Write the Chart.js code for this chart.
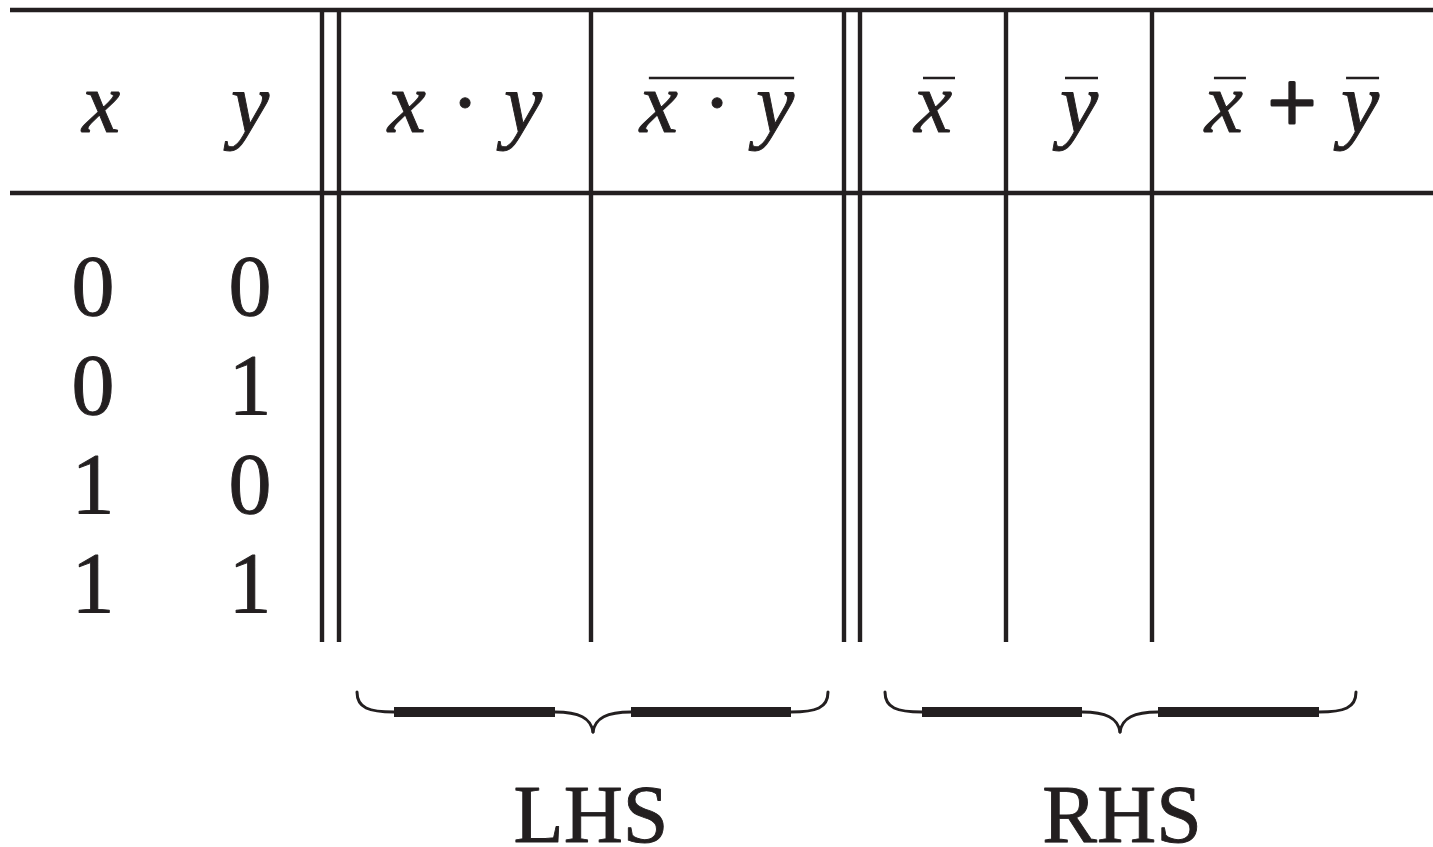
<!DOCTYPE html>
<html>
<head>
<meta charset="utf-8">
<script src="https://cdn.jsdelivr.net/npm/chart.js@4/dist/chart.umd.min.js"></script>
<style>
  html, body { margin: 0; padding: 0; background: #ffffff; }
  #wrap { width: 1433px; height: 847px; position: relative; }
</style>
</head>
<body>
<div id="wrap"><canvas id="c" width="1433" height="847"></canvas></div>
<script>
// ---- Data (truth table content) ----
const headerLabels = ['x', 'y', 'x · y', 'x · y', 'x', 'y', 'x + y'];
// overline spans as [firstToken, lastToken] per header (tokens split on spaces)
const headerBars = [[], [], [], [[0, 2]], [[0, 0]], [[0, 0]], [[0, 0], [2, 2]]];
const xBits = [0, 0, 1, 1];
const yBits = [0, 1, 0, 1];
const groupLabels = ['LHS', 'RHS'];

// ---- Layout (in scale units = pixels of the 1433x847 picture) ----
const INK = '#231f20';
const FAMILY = '"Liberation Serif", "Times New Roman", Times, serif';
const colCenters = [101, 250, 465, 717, 933, 1079, 1292];
const dataCenters = [93, 250];
const headerBaseline = 132;
const rowBaseline0 = 315, rowStep = 99;
const hRules = [10, 193];
const vRules = [322, 339, 591, 844, 860, 1006, 1152];
const ruleTop = 8, ruleBottom = 642, ruleLeft = 10, ruleRight = 1433;
const braces = [[357, 828, 593], [885, 1356, 1120]];
const groupCenters = [591, 1122];

const tablePlugin = {
  id: 'truthTable',
  afterDraw(chart) {
    const ctx = chart.ctx;
    const sx = chart.scales.x, sy = chart.scales.y;
    const X = v => sx.getPixelForValue(v);
    const Y = v => sy.getPixelForValue(v);
    ctx.save();
    ctx.strokeStyle = INK;
    ctx.fillStyle = INK;
    ctx.lineCap = 'butt';
    ctx.lineJoin = 'round';

    const text = (t, x, y, w) => {
      ctx.fillText(t, x, y);
      ctx.lineWidth = w || 0.9;
      ctx.strokeText(t, x, y);
    };

    // rules
    ctx.lineWidth = 4.5;
    hRules.forEach(y => {
      ctx.beginPath(); ctx.moveTo(X(ruleLeft), Y(y)); ctx.lineTo(X(ruleRight), Y(y)); ctx.stroke();
    });
    ctx.lineWidth = 4.4;
    vRules.forEach(x => {
      ctx.beginPath(); ctx.moveTo(X(x), Y(ruleTop)); ctx.lineTo(X(x), Y(ruleBottom)); ctx.stroke();
    });

    // headers
    const fs = 86;
    const italicFont = 'italic ' + fs + 'px ' + FAMILY;
    const romanFont = fs + 'px ' + FAMILY;
    ctx.textBaseline = 'alphabetic';
    ctx.textAlign = 'left';
    ctx.font = romanFont;
    const spaceW = ctx.measureText(' ').width * 1.15;
    headerLabels.forEach((label, ci) => {
      const toks = label.split(' ');
      const widths = toks.map(t => {
        ctx.font = /[a-z]/.test(t) ? italicFont : romanFont;
        return ctx.measureText(t).width;
      });
      const total = widths.reduce((a, b) => a + b, 0) + spaceW * (toks.length - 1);
      let left = X(colCenters[ci]) - total / 2;
      const lefts = [];
      toks.forEach((t, ti) => {
        ctx.font = /[a-z]/.test(t) ? italicFont : romanFont;
        lefts.push(left);
        text(t, left, Y(headerBaseline), t === '+' ? 3 : 0.9);
        left += widths[ti] + spaceW;
      });
      ctx.lineWidth = 2.5;
      headerBars[ci].forEach(([a, b]) => {
        const ca = lefts[a] + widths[a] / 2 + (toks[a] === 'y' ? 2 : 6);
        const cb = lefts[b] + widths[b] / 2 + (toks[b] === 'y' ? 2 : 6);
        const x0 = ca - 16, x1 = cb + (toks[b] === 'y' ? 17 : 16);
        ctx.beginPath(); ctx.moveTo(x0, Y(78)); ctx.lineTo(x1, Y(78)); ctx.stroke();
      });
    });

    // truth values
    ctx.font = romanFont;
    ctx.textAlign = 'center';
    xBits.forEach((v, i) => text(String(v), X(dataCenters[0]), Y(rowBaseline0 + i * rowStep)));
    yBits.forEach((v, i) => text(String(v), X(dataCenters[1]), Y(rowBaseline0 + i * rowStep)));

    // braces
    braces.forEach(([a, b, tip]) => {
      const yTop = Y(692), yMid = Y(712), yTip = Y(732);
      const curl = 37, tipHalf = 38;
      ctx.lineCap = 'round';
      ctx.lineWidth = 3;
      ctx.beginPath(); ctx.moveTo(X(a), yTop);
      ctx.bezierCurveTo(X(a), yMid - 4, X(a + 12), yMid, X(a + curl), yMid); ctx.stroke();
      ctx.beginPath(); ctx.moveTo(X(b), yTop);
      ctx.bezierCurveTo(X(b), yMid - 4, X(b - 12), yMid, X(b - curl), yMid); ctx.stroke();
      ctx.beginPath(); ctx.moveTo(X(tip - tipHalf), yMid);
      ctx.bezierCurveTo(X(tip - 14), yMid, X(tip - 2), yMid + 6, X(tip), yTip); ctx.stroke();
      ctx.beginPath(); ctx.moveTo(X(tip + tipHalf), yMid);
      ctx.bezierCurveTo(X(tip + 14), yMid, X(tip + 2), yMid + 6, X(tip), yTip); ctx.stroke();
      ctx.lineCap = 'butt';
      ctx.lineWidth = 10;
      ctx.beginPath(); ctx.moveTo(X(a + curl), yMid); ctx.lineTo(X(tip - tipHalf), yMid); ctx.stroke();
      ctx.beginPath(); ctx.moveTo(X(tip + tipHalf), yMid); ctx.lineTo(X(b - curl), yMid); ctx.stroke();
    });

    // group labels
    ctx.font = '82px ' + FAMILY;
    ctx.textAlign = 'center';
    groupLabels.forEach((g, i) => text(g, X(groupCenters[i]), Y(842)));
    ctx.restore();
  }
};

function build() {
  new Chart(document.getElementById('c'), {
    type: 'scatter',
    data: { datasets: [{ data: [], pointRadius: 0 }] },
    options: {
      responsive: false,
      animation: false,
      layout: { padding: 0 },
      plugins: { legend: { display: false }, tooltip: { enabled: false } },
      scales: {
        x: { type: 'linear', min: 0, max: 1433, display: false },
        y: { type: 'linear', min: 0, max: 847, reverse: true, display: false }
      }
    },
    plugins: [tablePlugin]
  });
}

Promise.all([
  document.fonts.load('86px "Liberation Serif"'),
  document.fonts.load('italic 86px "Liberation Serif"')
]).then(build, build);
</script>
</body>
</html>
